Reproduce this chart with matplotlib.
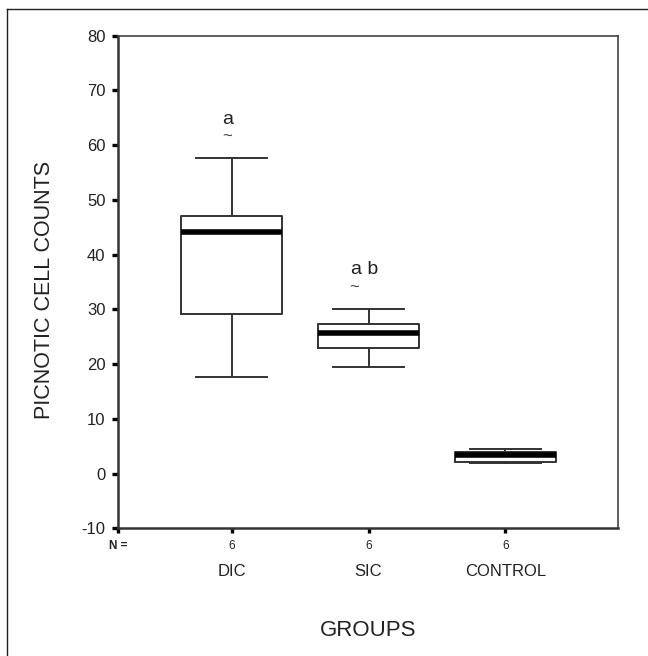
import matplotlib
matplotlib.use("Agg")
import matplotlib.pyplot as plt
import matplotlib.transforms as mtransforms
from matplotlib.lines import Line2D

plt.rcParams['font.family'] = ['Liberation Sans', 'DejaVu Sans']
plt.rcParams['axes.unicode_minus'] = False

groups = ["DIC", "SIC", "CONTROL"]
n_counts = [6, 6, 6]
whisker_low = [17.6, 19.4, 1.9]
q1 = [29.1, 22.9, 2.2]
median = [44.1, 25.7, 3.4]
q3 = [47.1, 27.4, 3.9]
whisker_high = [57.6, 30.1, 4.4]
letters = ["a", "a b", ""]

stats = []
for i, g in enumerate(groups):
    stats.append({"label": g, "whislo": whisker_low[i], "q1": q1[i], "med": median[i],
                  "q3": q3[i], "whishi": whisker_high[i], "fliers": []})

fig = plt.figure(figsize=(6.48, 6.56), dpi=100)
ax = fig.add_axes([118/648, 1-528.3/656, 500/648, 492.6/656])

pos = [1, 2, 3]
ax.bxp(stats, positions=pos, widths=0.738, showfliers=False,
       boxprops=dict(color='#333333', linewidth=1.4),
       whiskerprops=dict(color='#333333', linewidth=1.4),
       capprops=dict(color='#333333', linewidth=1.4),
       medianprops=dict(color='black', linewidth=4, solid_capstyle='butt'),
       capwidths=0.52)

ax.set_xlim(0.1695, 3.822)
ax.set_ylim(-10, 80)
ax.set_yticks(range(-10, 81, 10))
ax.tick_params(axis='y', length=4, width=2.4, color='black', labelsize=12,
               labelcolor='#222222', pad=5)

# N row under the axis
ax.set_xticks([0.1695] + pos)
ax.set_xticklabels(["N ="] + [str(n) for n in n_counts])
ax.tick_params(axis='x', length=3.5, width=2.4, color='black', labelsize=8.5,
               labelcolor='#222222', pad=5)
ax.get_xticklabels()[0].set_fontweight('bold')

for side in ['left', 'bottom']:
    ax.spines[side].set_linewidth(1.8)
    ax.spines[side].set_color('#333333')
for side in ['top', 'right']:
    ax.spines[side].set_linewidth(1.2)
    ax.spines[side].set_color('#444444')

trans = mtransforms.blended_transform_factory(ax.transData, fig.transFigure)
for i, g in enumerate(groups):
    ax.text(pos[i], 1-572/656, g, transform=trans, ha='center', va='center',
            fontsize=12, color='#222222')

# significance letters with wavy mark under the "a"
for i, t in enumerate(letters):
    if t:
        y = whisker_high[i] + 6.3
        ax.text(pos[i] - 0.03, y, t, ha='center', va='baseline', fontsize=14,
                color='#222222')
        ax.text(pos[i] - 0.03 - (0.075 if len(t) > 1 else 0), y - 3.3, "~", ha='center',
                va='baseline', fontsize=12, color='#444444')

fig.text(45/648, 1-290/656, "PICNOTIC CELL COUNTS", rotation=90, ha='center',
         va='center', fontsize=15.5, color='#222222')
fig.text(368/648, 1-631/656, "GROUPS", ha='center', va='center', fontsize=16,
         color='#222222')

# frame around the figure (top and left)
fig.add_artist(Line2D([7/648, 7/648], [0, 1-9/656], transform=fig.transFigure,
                      color='#222222', linewidth=1))
fig.add_artist(Line2D([7/648, 1], [1-9/656, 1-9/656], transform=fig.transFigure,
                      color='#222222', linewidth=1))

fig.savefig("out.png", dpi=100)
